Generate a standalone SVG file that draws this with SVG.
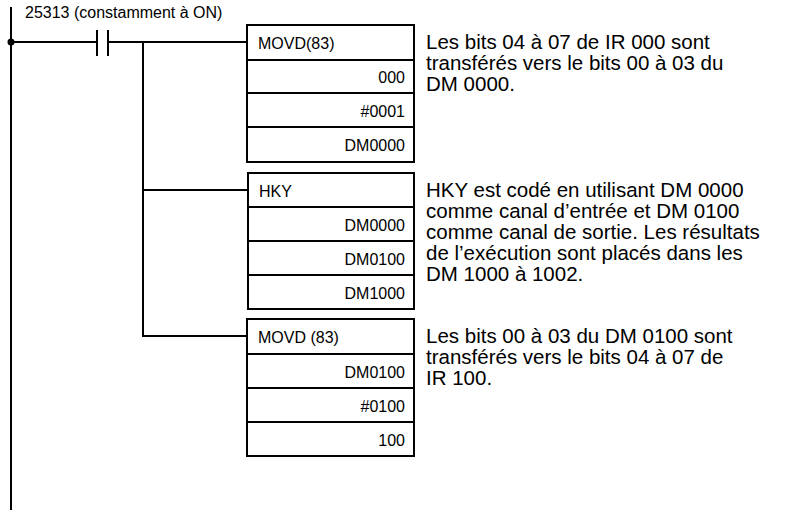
<svg xmlns="http://www.w3.org/2000/svg" width="803" height="512" viewBox="0 0 803 512">
<style>
text{font-family:"Liberation Sans",Arial,sans-serif;font-size:16px;fill:#000}
.r{text-anchor:end}
.n{font-size:20.5px}
.l{stroke:#000;stroke-width:2;fill:none}
.b{stroke:#000;stroke-width:2;fill:#fff}
</style>
<rect width="803" height="512" fill="#fff"/>
<g id="connectors">
<line class="l" x1="11" y1="7" x2="11" y2="510"/>
<circle cx="11" cy="42" r="3.5" fill="#000"/>
<line class="l" x1="11" y1="42" x2="97" y2="42"/>
<line class="l" x1="97" y1="30" x2="97" y2="56"/>
<line class="l" x1="108" y1="30" x2="108" y2="56"/>
<line class="l" x1="108" y1="42" x2="247" y2="42"/>
<polyline class="l" points="143,42 143,336 247,336"/>
<line class="l" x1="143" y1="190" x2="248" y2="190"/>
</g>
<text x="25" y="18" font-size="15.5">25313 (constamment à ON)</text>
<g id="movd1">
<rect class="b" x="247" y="25" width="167" height="137"/>
<line class="l" x1="247" y1="60" x2="414" y2="60"/><line class="l" x1="247" y1="93" x2="414" y2="93"/><line class="l" x1="247" y1="127" x2="414" y2="127"/>
<text x="258" y="49">MOVD(83)</text>
<text class="r" x="405" y="83">000</text><text class="r" x="405" y="117">#0001</text><text class="r" x="405" y="151">DM0000</text>
</g>
<g id="hky">
<rect class="b" x="248" y="173" width="166" height="136"/>
<line class="l" x1="248" y1="207" x2="414" y2="207"/><line class="l" x1="248" y1="241" x2="414" y2="241"/><line class="l" x1="248" y1="275" x2="414" y2="275"/>
<text x="259" y="197">HKY</text>
<text class="r" x="405" y="231">DM0000</text><text class="r" x="405" y="265">DM0100</text><text class="r" x="405" y="299">DM1000</text>
</g>
<g id="movd2">
<rect class="b" x="247" y="319" width="167" height="137"/>
<line class="l" x1="247" y1="354" x2="414" y2="354"/><line class="l" x1="247" y1="388" x2="414" y2="388"/><line class="l" x1="247" y1="422" x2="414" y2="422"/>
<text x="258" y="343">MOVD (83)</text>
<text class="r" x="405" y="378">DM0100</text><text class="r" x="405" y="412">#0100</text><text class="r" x="405" y="446">100</text>
</g>
<g id="notes">
<text class="n" x="426" y="49">Les bits 04 à 07 de IR 000 sont</text>
<text class="n" x="426" y="70">transférés vers le bits 00 à 03 du</text>
<text class="n" x="426" y="91">DM 0000.</text>
<text class="n" x="426" y="197">HKY est codé en utilisant DM 0000</text>
<text class="n" x="426" y="218">comme canal d’entrée et DM 0100</text>
<text class="n" x="426" y="239">comme canal de sortie. Les résultats</text>
<text class="n" x="426" y="260">de l’exécution sont placés dans les</text>
<text class="n" x="426" y="281">DM 1000 à 1002.</text>
<text class="n" x="426" y="343">Les bits 00 à 03 du DM 0100 sont</text>
<text class="n" x="426" y="364">transférés vers le bits 04 à 07 de</text>
<text class="n" x="426" y="385">IR 100.</text>
</g>
</svg>
